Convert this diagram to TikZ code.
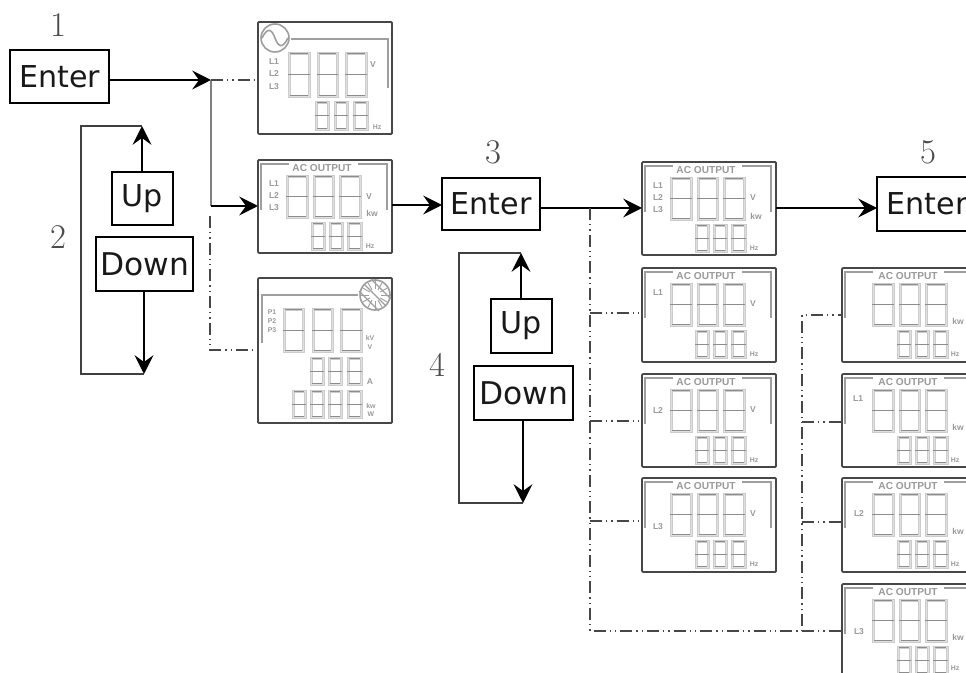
\documentclass[tikz,border=0pt]{standalone}
\usepackage{fontspec}
\setmainfont{DejaVu Sans}
\newfontfamily\lblfont{Liberation Sans}[BoldFont={Liberation Sans Bold}]
\newfontfamily\numfont{Latin Modern Roman}
\usetikzlibrary{arrows.meta}
\definecolor{seggray}{gray}{0.8}
\definecolor{segfill}{gray}{0.88}
\definecolor{txtgray}{gray}{0.6}
\definecolor{framegray}{gray}{0.62}
\newcommand{\segdigit}[4]{% x y w h
  \draw[seg,fill=segfill] (#1,#2) rectangle ++(#3,#4);
  \draw[seg,fill=white] (#1+2,#2+2) rectangle ++(#3-4,#4-4);
  \draw[segmid] (#1,#2+0.5*#4) -- ++(#3,0);
  \draw[segmid] (#1+2,#2+1.5) -- ++(#3-4,0);
  \draw[segmid] (#1+2,#2+#4-1.5) -- ++(#3-4,0);
}
\newcommand{\acdigits}{%
  \segdigit{28}{15}{22}{43}\segdigit{55}{15}{21}{43}\segdigit{81}{15}{22}{43}
  \segdigit{53}{62}{14}{28}\segdigit{71}{62}{14}{28}\segdigit{89}{62}{15}{28}
}
\newcommand{\acframe}{%
  \draw[gframe] (3,50) -- (3,4) -- (31,4);
  \draw[gframe] (100,4) -- (129,4) -- (129,50);
  \node[lbl,font=\lblfont\bfseries\fontsize{7.6}{8}\selectfont] at (64,8) {AC OUTPUT};
  \acdigits
  \node[lbl,font=\lblfont\bfseries\fontsize{5.2}{6}\selectfont] at (112,86) {Hz};
}
\newcommand{\acframeR}{%
  \draw[gframe] (3,50) -- (3,4) -- (31,4);
  \draw[gframe] (102,4) -- (131,4);
  \begin{scope}[shift={(2,0)}]
  \node[lbl,font=\lblfont\bfseries\fontsize{7.6}{8}\selectfont] at (64,8) {AC OUTPUT};
  \acdigits
  \end{scope}
}
% #1 node name, #2 x, #3 y, #4 h, #5 body
\newcommand{\panel}[5]{%
  \node[panelbox,minimum height=#4*0.75pt,anchor=north west] (#1) at (#2,#3) {};
  \begin{scope}[shift={(#2,#3)}]#5\end{scope}
}
\tikzset{
  x=0.75pt,y=-0.75pt,
  panelbox/.style={draw=black!72,line width=1.4pt,rounded corners=0.8pt,minimum width=134*0.75pt,inner sep=0pt,outer sep=0pt},
  seg/.style={draw=seggray,line width=0.5pt},
  segmid/.style={draw=black!45,line width=0.6pt},
  gframe/.style={draw=framegray,line width=1.3pt},
  lbl/.style={text=txtgray,font=\lblfont\bfseries\fontsize{6.4}{7}\selectfont,inner sep=0pt},
  small/.style={font=\lblfont\bfseries\fontsize{5.2}{6}\selectfont},
  keybox/.style={draw=black,line width=1.7pt,text=black!90,inner sep=0pt,outer sep=0pt,anchor=north west},
  enterfont/.style={font=\fontsize{22.6}{24}\selectfont},
  upfont/.style={font=\fontsize{22.6}{24}\selectfont},
  downfont/.style={font=\fontsize{23.5}{24}\selectfont},
  num/.style={font=\numfont\fontsize{26}{28}\selectfont,text=black!70,inner sep=0pt},
  flow/.style={line width=2.1pt,draw=black,-{Stealth[length=14pt,width=14pt,inset=5pt]}},
  plain/.style={line width=1.1pt,draw=black!75},
  graybar/.style={line width=1.6pt,draw=black!50},
  branch/.style={line width=0.95pt,draw=black!72,dash pattern=on 9pt off 3pt on 1pt off 3pt on 1pt off 3pt},
}
\begin{document}
\begin{tikzpicture}
\useasboundingbox (0,0) rectangle (966,673);
\clip (0,0) rectangle (966,673);
\node[num] (n1) at (58,25) {1};
\node[num] (n2) at (58,237) {2};
\node[num] (n3) at (493,152) {3};
\node[num] (n4) at (437,365) {4};
\node[num] (n5) at (928,152) {5};
\node[keybox,enterfont,minimum width=99*0.75pt,minimum height=53*0.75pt] (e1) at (10,50) {Enter};
\node[keybox,upfont,minimum width=61*0.75pt,minimum height=53*0.75pt] (u1) at (112,172) {Up};
\node[keybox,downfont,minimum width=97*0.75pt,minimum height=54*0.75pt] (d1) at (96,237) {Down};
\node[keybox,enterfont,minimum width=98*0.75pt,minimum height=52*0.75pt] (e3) at (442,178) {Enter};
\node[keybox,upfont,minimum width=61*0.75pt,minimum height=54*0.75pt] (u2) at (491,299) {Up};
\node[keybox,downfont,minimum width=99*0.75pt,minimum height=54*0.75pt] (d2) at (474,366) {Down};
\node[keybox,enterfont,minimum width=100*0.75pt,minimum height=54*0.75pt] (e5) at (877,177) {Enter};
\panel{p1}{258}{22}{112}{%
  \draw[framegray,line width=1.2pt] (17,16) circle (14);
  \draw[framegray,line width=1.2pt] (4,16) .. controls (10,4) and (14,8) .. (17,16) .. controls (20,24) and (24,28) .. (30,16);
  \draw[gframe] (33,17) -- (130,17) -- (130,66);
  \node[lbl] at (16,40) {L1};\node[lbl] at (16,52) {L2};\node[lbl] at (16,65) {L3};
  \node[lbl] at (115,43) {V};
  \segdigit{30}{30}{22}{45}\segdigit{59}{30}{21}{45}\segdigit{87}{30}{22}{45}
  \segdigit{57}{79}{14}{29}\segdigit{76}{79}{14}{29}\segdigit{95}{79}{15}{29}
  \node[lbl,small] at (119,105) {Hz};
}
\panel{p2}{258}{160}{93}{%
  \acframe
  \node[lbl] at (16,24) {L1};\node[lbl] at (16,36) {L2};\node[lbl] at (16,48) {L3};
  \node[lbl] at (111,37) {V};\node[lbl] at (114,53) {kw};
}
\panel{p3}{258}{278}{145}{%
  \draw[framegray,line width=1.2pt] (117,17) circle (15);
  \foreach \a in {0,30,...,330}{\draw[framegray,line width=0.7pt] (117,17) ++(\a:6) -- ++(\a:8);}
  \foreach \d in {-6,0,6}{\draw[framegray,line width=1pt] (107+\d,7-\d) -- (127+\d,27-\d);}
  \draw[gframe] (100,17) -- (4,17) -- (4,65);
  \node[lbl,small] at (14,34) {P1};\node[lbl,small] at (14,43) {P2};\node[lbl,small] at (14,52) {P3};
  \node[lbl,small] at (112,60) {kV};
  \node[lbl,small] at (112,69) {V};
  \node[lbl] at (112,104) {A};
  \node[lbl,small] at (113,128) {kw};\node[lbl,small] at (113,136) {W};
  \segdigit{25}{30}{21}{44}\segdigit{54}{30}{21}{44}\segdigit{82}{30}{22}{44}
  \segdigit{52}{79}{14}{28}\segdigit{70}{79}{14}{28}\segdigit{89}{79}{15}{28}
  \segdigit{34}{112}{14}{28}\segdigit{52}{112}{14}{28}\segdigit{70}{112}{14}{28}\segdigit{89}{112}{15}{28}
}
% second column
\panel{q1}{642}{162}{93}{%
  \acframe
  \node[lbl] at (16,24) {L1};\node[lbl] at (16,36) {L2};\node[lbl] at (16,48) {L3};
  \node[lbl] at (111,36) {V};\node[lbl] at (114,54) {kw};
}
\panel{q2}{642}{268}{94}{\acframe\node[lbl] at (16,25) {L1};\node[lbl] at (111,36) {V};}
\panel{q3}{642}{374}{93}{\acframe\node[lbl] at (16,37) {L2};\node[lbl] at (111,36) {V};}
\panel{q4}{642}{478}{94}{\acframe\node[lbl] at (16,49) {L3};\node[lbl] at (111,36) {V};}
% third column
\panel{r1}{842}{268}{94}{\acframeR\node[lbl] at (116,53) {kw};\node[lbl,small] at (113,86) {Hz};}
\panel{r2}{842}{374}{93}{\acframeR\node[lbl] at (16,25) {L1};\node[lbl] at (116,53) {kw};\node[lbl,small] at (113,86) {Hz};}
\panel{r3}{842}{478}{94}{\acframeR\node[lbl] at (17,36) {L2};\node[lbl] at (116,53) {kw};\node[lbl,small] at (113,86) {Hz};}
\panel{r4}{842}{584}{100}{\acframeR\node[lbl] at (17,48) {L3};\node[lbl] at (116,53) {kw};\node[lbl,small] at (113,84) {Hz};}
% junctions
\coordinate (j1) at (211,80);
\coordinate (j2) at (211,206);
\coordinate (j2b) at (210,216);
\coordinate (j3) at (210,350);
\coordinate (t1) at (142,126);
\coordinate (t2) at (81,126);
\coordinate (t3) at (81,374);
\coordinate (t4) at (144,374);
\coordinate (w) at (211,205);
\coordinate (s1) at (521,253);
\coordinate (s2) at (459,253);
\coordinate (s3) at (459,503);
\coordinate (s4) at (523,503);
\coordinate (k0) at (590,208);
\coordinate (k1) at (590,313);
\coordinate (k2) at (590,421);
\coordinate (k3) at (590,521);
\coordinate (k4) at (590,631);
\coordinate (m0) at (802,315);
\coordinate (m1) at (802,422);
\coordinate (m2) at (802,522);
\coordinate (m3) at (802,631);
% flows
\draw[flow] (e1.east |- j1) -- (j1);
\draw[graybar] (j1) -- (j2);
\draw[flow] (j2) -- (j2 -| p2.west);
\draw[branch] (j1) -- (j1 -| p1.west);
\draw[branch] (j2b) -- (j3) -- (j3 -| p3.west);
\draw[plain] (t1) -- (t2) -- (t3) -- (t4);
\draw[flow] (t1 |- u1.north) -- (t1);
\draw[flow] (t4 |- d1.south) -- (t4);
\draw[flow] (w -| p2.east) -- (w -| e3.west);
\draw[flow] (k0 -| e3.east) -- (k0 -| q1.west);
\draw[flow] (k0 -| q1.east) -- (k0 -| e5.west);
\draw[plain] (s1) -- (s2) -- (s3) -- (s4);
\draw[flow] (s1 |- u2.north) -- (s1);
\draw[flow] (s4 |- d2.south) -- (s4);
\draw[branch] (k0) -- (k4) -- (m3) -- (m0) -- (m0 -| r1.west);
\draw[branch] (m3) -- (m3 -| r4.west);
\draw[branch] (k1) -- (k1 -| q2.west);
\draw[branch] (k2) -- (k2 -| q3.west);
\draw[branch] (k3) -- (k3 -| q4.west);
\draw[branch] (m1) -- (m1 -| r2.west);
\draw[branch] (m2) -- (m2 -| r3.west);
\end{tikzpicture}
\end{document}
